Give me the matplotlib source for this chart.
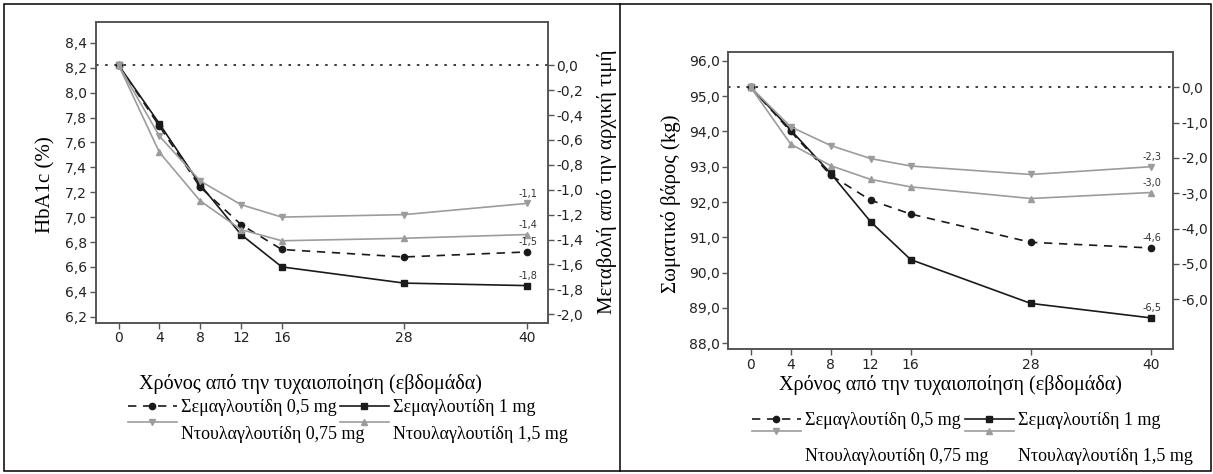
import numpy as np
import matplotlib
matplotlib.use("Agg")
import matplotlib.pyplot as plt
from matplotlib.ticker import FuncFormatter, FixedLocator
from matplotlib.legend_handler import HandlerLine2D
from matplotlib.patches import Rectangle
from matplotlib.lines import Line2D

# ---------------- data ----------------
weeks = [0, 4, 8, 12, 16, 28, 40]
week_ticks = [0, 4, 8, 12, 16, 28, 40]

series_names = ["Σεμαγλουτίδη 0,5 mg", "Σεμαγλουτίδη 1 mg",
                "Ντουλαγλουτίδη 0,75 mg", "Ντουλαγλουτίδη 1,5 mg"]

# HbA1c (%)
hba1c_baseline = 8.22
hba1c_sema05 = [8.22, 7.73, 7.24, 6.94, 6.74, 6.68, 6.72]
hba1c_sema1 = [8.22, 7.75, 7.26, 6.86, 6.60, 6.47, 6.45]
hba1c_dula075 = [8.22, 7.65, 7.29, 7.10, 7.00, 7.02, 7.11]
hba1c_dula15 = [8.22, 7.52, 7.13, 6.90, 6.81, 6.83, 6.86]
hba1c_end_labels = ["-1,5", "-1,8", "-1,1", "-1,4"]
hba1c_left_ticks = [6.2, 6.4, 6.6, 6.8, 7.0, 7.2, 7.4, 7.6, 7.8, 8.0, 8.2, 8.4]
hba1c_right_ticks = [0.0, -0.2, -0.4, -0.6, -0.8, -1.0, -1.2, -1.4, -1.6, -1.8, -2.0]

# Body weight (kg)
weight_baseline = 95.25
weight_sema05 = [95.25, 94.00, 92.76, 92.05, 91.66, 90.86, 90.70]
weight_sema1 = [95.25, 94.04, 92.81, 91.44, 90.37, 89.13, 88.72]
weight_dula075 = [95.25, 94.13, 93.60, 93.23, 93.02, 92.78, 93.00]
weight_dula15 = [95.25, 93.64, 93.03, 92.64, 92.43, 92.10, 92.27]
weight_end_labels = ["-4,6", "-6,5", "-2,3", "-3,0"]
weight_left_ticks = [88.0, 89.0, 90.0, 91.0, 92.0, 93.0, 94.0, 95.0, 96.0]
weight_right_ticks = [0.0, -1.0, -2.0, -3.0, -4.0, -5.0, -6.0]

# ---------------- style ----------------
W, H = 1213, 474
fig = plt.figure(figsize=(W / 100, H / 100), dpi=100)
SERIF = ["Liberation Serif", "DejaVu Serif"]
SANS = ["DejaVu Sans"]
BLACK = "#1a1a1a"
GRAY = "#9c9c9c"
SPINE = "#555555"

styles = [
    dict(color=BLACK, ls=(0, (5, 4)), marker="o", ms=4.5),
    dict(color=BLACK, ls="-", marker="s", ms=4.5),
    dict(color=GRAY, ls="-", marker="v", ms=5),
    dict(color=GRAY, ls="-", marker="^", ms=5),
]

comma = FuncFormatter(lambda v, p: f"{v:.1f}".replace(".", ",").replace("-0,0", "0,0"))


class ShiftedLine(HandlerLine2D):
    def __init__(self, dy, **kw):
        super().__init__(**kw)
        self.dy = dy

    def create_artists(self, legend, orig_handle, xdescent, ydescent, width,
                       height, fontsize, trans):
        arts = super().create_artists(legend, orig_handle, xdescent, ydescent,
                                      width, height, fontsize, trans)
        for a in arts:
            a.set_ydata(np.asarray(a.get_ydata(), float) + self.dy * fontsize)
        return arts


def px_rect(l, t, r, b):
    return [l / W, 1 - b / H, (r - l) / W, (b - t) / H]


def make_panel(rect, series, baseline, left_ticks, right_ticks, end_labels,
               ylabel, ylabel_pos, rlabel, rlabel_pos, xlabel_pos,
               xlim, ylim, leg_cols_x, leg_top, leg_spacing, leg_dy):
    ax = fig.add_axes(rect)
    lines = []
    for vals, st, name in zip(series, styles, series_names):
        ln, = ax.plot(weeks, vals, lw=1.2, label=name, **st)
        lines.append(ln)
    for vals, st, lab in zip(series, styles, end_labels):
        ax.annotate(lab, (weeks[-1], vals[-1]), xytext=(1, 3.5),
                    textcoords="offset points", ha="center", va="bottom",
                    fontsize=7, color="#333333", family=SANS)
    ax.axhline(baseline, color=BLACK, lw=1.2, ls=(0, (1.5, 4)), zorder=0)
    ax.set_xlim(*xlim)
    ax.set_ylim(*ylim)
    ax.xaxis.set_major_locator(FixedLocator(week_ticks))
    ax.yaxis.set_major_locator(FixedLocator(left_ticks))
    ax.yaxis.set_major_formatter(comma)

    ax2 = ax.twinx()
    ax2.set_ylim(ylim[0] - baseline, ylim[1] - baseline)
    ax2.yaxis.set_major_locator(FixedLocator(right_ticks))
    ax2.yaxis.set_major_formatter(comma)

    for a in (ax, ax2):
        for s in a.spines.values():
            s.set_color(SPINE)
            s.set_linewidth(1.2)
        a.tick_params(direction="out", length=4, width=1, color=SPINE,
                      labelsize=10, labelcolor="#222222", pad=2)
        for t in a.get_xticklabels() + a.get_yticklabels():
            t.set_family(SANS)

    ax.set_xlabel("Χρόνος από την τυχαιοποίηση (εβδομάδα)", family=SERIF,
                  fontsize=14.5, va="center")
    ax.xaxis.set_label_coords(*xlabel_pos)
    ax.set_ylabel(ylabel, family=SERIF, fontsize=15, va="center")
    ax.yaxis.set_label_coords(*ylabel_pos)
    if rlabel:
        ax2.set_ylabel(rlabel, family=SERIF, fontsize=15, va="center")
        ax2.yaxis.set_label_coords(*rlabel_pos)

    # legends: one per column, second row text sits lower than its key
    for col, xpos in enumerate(leg_cols_x):
        h1, h2 = lines[col], lines[col + 2]
        leg = fig.legend([h1, h2], [h1.get_label(), h2.get_label()],
                         loc="upper left", bbox_to_anchor=(xpos / W, 1 - leg_top / H),
                         bbox_transform=fig.transFigure, frameon=False,
                         borderpad=0, borderaxespad=0, handlelength=2.7,
                         handletextpad=0.25, labelspacing=leg_spacing,
                         prop=dict(family=SERIF, size=13),
                         handler_map={h2: ShiftedLine(leg_dy)})
        leg.set_zorder(5)
    return ax


make_panel(px_rect(95.5, 22, 548, 322.7),
           [hba1c_sema05, hba1c_sema1, hba1c_dula075, hba1c_dula15],
           hba1c_baseline, hba1c_left_ticks, hba1c_right_ticks, hba1c_end_labels,
           "HbA1c (%)", (-0.11, 0.458),
           "Μεταβολή από την αρχική τιμή", (1.13, 0.468),
           (0.476, -0.204), (-2.27, 42.1), (6.152, 8.567),
           [128, 340], 399, 0.55, 0.6)

make_panel(px_rect(728.3, 52.3, 1172.7, 349.3),
           [weight_sema05, weight_sema1, weight_dula075, weight_dula15],
           weight_baseline, weight_left_ticks, weight_right_ticks, weight_end_labels,
           "Σωματικό βάρος (kg)", (-0.13, 0.489),
           None, None,
           (0.5, -0.12), (-2.24, 42.2), (87.83, 96.24),
           [752, 965], 412, 1.05, 1.3)

# panel frames
fig.add_artist(Rectangle((4 / W, 1 - 471 / H), 1207 / W, 467 / H,
                         transform=fig.transFigure, fill=False, lw=1.1, ec="black"))
fig.add_artist(Line2D([620 / W, 620 / W], [1 - 471 / H, 1 - 4 / H],
                      transform=fig.transFigure, lw=1.1, color="black"))

fig.savefig("out.png", dpi=100)
